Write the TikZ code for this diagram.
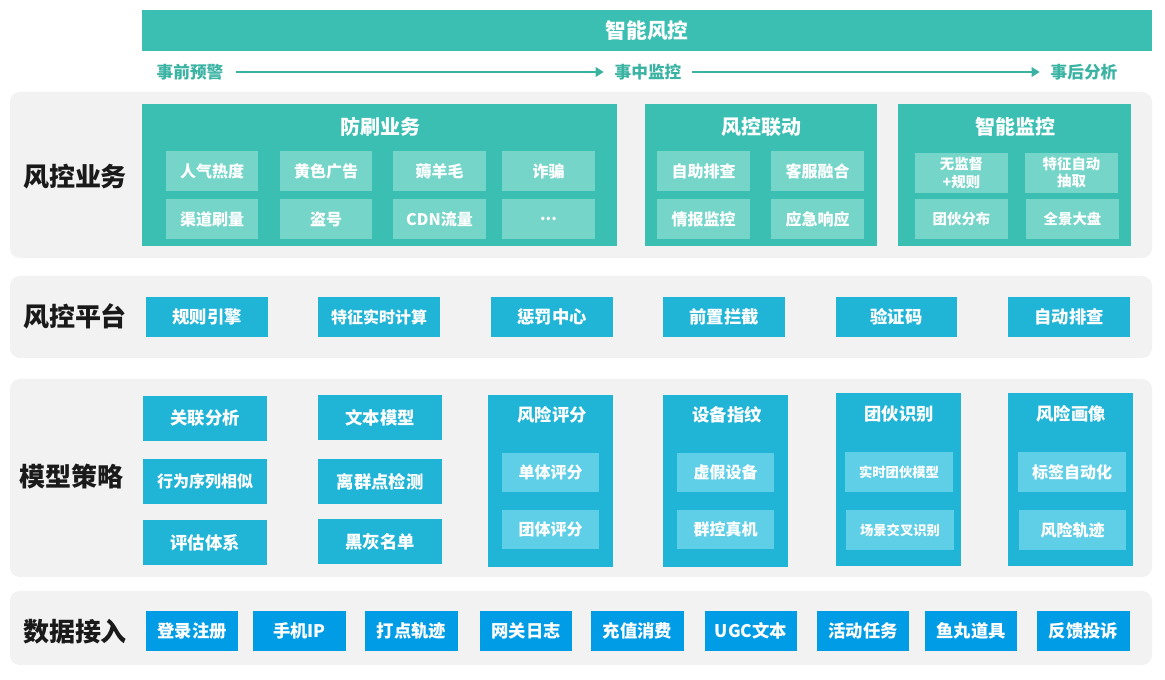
\documentclass[tikz,border=0pt]{standalone}
\usepackage{fontspec}
\setmainfont{Noto Sans CJK SC}
\usetikzlibrary{arrows.meta}
\definecolor{teal1}{HTML}{3CBFB3}
\definecolor{teal2}{HTML}{76D5C9}
\definecolor{tealtxt}{HTML}{3AB3A3}
\definecolor{cyan1}{HTML}{20B4D6}
\definecolor{cyan2}{HTML}{5FCFE8}
\definecolor{blue1}{HTML}{009CE5}
\definecolor{panelgray}{HTML}{F2F2F2}
\definecolor{labelblack}{HTML}{1A1A1A}
\newcommand\bx[7]{\node[#6, minimum width={(#4-#2)*0.75pt}, minimum height={(#5-#3)*0.75pt}] (#1) at ({(#2+#4)/2},{(#3+#5)/2}) {#7};}
\tikzset{
  base/.style={inner sep=0pt, outer sep=0pt, text=white, font=\bfseries, align=center},
  banner/.style={base, fill=teal1, font=\bfseries\fontsize{15.5pt}{18pt}\selectfont},
  group/.style={base, fill=teal1},
  tsub/.style={base, fill=teal2, font=\bfseries\fontsize{12pt}{14pt}\selectfont},
  tsubsm/.style={base, fill=teal2, font=\bfseries\fontsize{10.8pt}{12.8pt}\selectfont},
  grptitle/.style={text=white, font=\bfseries\fontsize{15pt}{18pt}\selectfont, inner sep=0pt},
  cbox/.style={base, fill=cyan1, font=\bfseries\fontsize{13pt}{15pt}\selectfont},
  cboxs/.style={base, fill=cyan1, font=\bfseries\fontsize{12pt}{14pt}\selectfont},
  tall/.style={base, fill=cyan1},
  talltitle/.style={text=white, font=\bfseries\fontsize{13pt}{15pt}\selectfont, inner sep=0pt},
  csub/.style={base, fill=cyan2, font=\bfseries\fontsize{12pt}{14pt}\selectfont},
  csubsm/.style={base, fill=cyan2, font=\bfseries\fontsize{10pt}{12pt}\selectfont},
  dbox/.style={base, fill=blue1, font=\bfseries\fontsize{13pt}{15pt}\selectfont},
  panel/.style={fill=panelgray, draw=none, rounded corners=7.5pt},
  seclabel/.style={text=labelblack, font=\bfseries\fontsize{19.5pt}{22pt}\selectfont, inner sep=0pt},
  phase/.style={text=tealtxt, font=\bfseries\fontsize{12.5pt}{15pt}\selectfont, inner sep=0pt},
  flowarrow/.style={draw=tealtxt, line width=1.5pt, -{Triangle[length=6pt,width=7pt]}},
}
\begin{document}
\begin{tikzpicture}[x=0.75pt,y=-0.75pt]
\useasboundingbox (0,0) rectangle (1165,680);
\fill[white] (0,0) rectangle (1165,680);

% top banner
\bx{banner}{142}{10}{1152}{51}{banner}{智能风控}
\node[phase] (pre) at (190,72) {事前预警};
\node[phase] (mid) at (648,72) {事中监控};
\node[phase] (post) at (1084,72) {事后分析};
\draw[flowarrow] ([xshift=9pt]pre.east) -- ([xshift=-8pt]mid.west);
\draw[flowarrow] ([xshift=8pt]mid.east) -- ([xshift=-8pt]post.west);

% panels
\fill[panel] (10,92) rectangle (1152,258);
\fill[panel] (10,276) rectangle (1152,358);
\fill[panel] (10,379) rectangle (1152,577);
\fill[panel] (10,591) rectangle (1152,665);

\node[seclabel] (l1) at (75,177) {风控业务};
\node[seclabel] (l2) at (75,316) {风控平台};
\node[seclabel] (l3) at (72,477) {模型策略};
\node[seclabel] (l4) at (75,632) {数据接入};

% panel 1
\bx{g1}{142}{104}{617}{246}{group}{}
\node[grptitle] (g1t) at (380,127) {防刷业务};
\bx{a1}{166}{151}{258}{191}{tsub}{人气热度}
\bx{a2}{280}{151}{372}{191}{tsub}{黄色广告}
\bx{a3}{393}{151}{486}{191}{tsub}{薅羊毛}
\bx{a4}{502}{151}{595}{191}{tsub}{诈骗}
\bx{a5}{166}{199}{258}{239}{tsub}{渠道刷量}
\bx{a6}{280}{199}{372}{239}{tsub}{盗号}
\bx{a7}{393}{199}{486}{239}{tsub}{CDN流量}
\bx{a8}{502}{199}{595}{239}{tsub}{...}

\bx{g2}{645}{104}{877}{246}{group}{}
\node[grptitle] (g2t) at (761,127) {风控联动};
\bx{b1}{657}{151}{750}{191}{tsub}{自助排查}
\bx{b2}{771}{151}{864}{191}{tsub}{客服融合}
\bx{b3}{657}{199}{750}{239}{tsub}{情报监控}
\bx{b4}{771}{199}{864}{239}{tsub}{应急响应}

\bx{g3}{898}{104}{1131}{246}{group}{}
\node[grptitle] (g3t) at (1015,127) {智能监控};
\bx{c1}{915}{153}{1008}{193}{tsubsm}{无监督\\+规则}
\bx{c2}{1025}{153}{1118}{193}{tsubsm}{特征自动\\抽取}
\bx{c3}{915}{199}{1008}{239}{tsubsm}{团伙分布}
\bx{c4}{1026}{199}{1119}{239}{tsubsm}{全景大盘}

% panel 2
\bx{p1}{146}{297}{268}{337}{cbox}{规则引擎}
\bx{p2}{318}{297}{440}{337}{cboxs}{特征实时计算}
\bx{p3}{491}{297}{613}{337}{cbox}{惩罚中心}
\bx{p4}{663}{297}{785}{337}{cbox}{前置拦截}
\bx{p5}{836}{297}{957}{337}{cbox}{验证码}
\bx{p6}{1008}{297}{1130}{337}{cbox}{自动排查}

% panel 3
\bx{m1}{143}{396}{267}{441}{cbox}{关联分析}
\bx{m2}{143}{459}{267}{504}{cboxs}{行为序列相似}
\bx{m3}{143}{520}{267}{565}{cbox}{评估体系}
\bx{m4}{318}{395}{442}{440}{cbox}{文本模型}
\bx{m5}{318}{459}{442}{504}{cbox}{离群点检测}
\bx{m6}{318}{519}{442}{564}{cbox}{黑灰名单}

\bx{t1}{488}{395}{613}{567}{tall}{}
\node[talltitle] (t1t) at (552,415) {风险评分};
\bx{t1a}{502}{453}{599}{492}{csub}{单体评分}
\bx{t1b}{502}{510}{599}{549}{csub}{团体评分}

\bx{t2}{663}{395}{788}{567}{tall}{}
\node[talltitle] (t2t) at (727,415) {设备指纹};
\bx{t2a}{677}{453}{774}{492}{csub}{虚假设备}
\bx{t2b}{677}{510}{774}{549}{csub}{群控真机}

\bx{t3}{836}{393}{961}{566}{tall}{}
\node[talltitle] (t3t) at (899,414) {团伙识别};
\bx{t3a}{845}{452}{953}{492}{csubsm}{实时团伙模型}
\bx{t3b}{846}{510}{954}{550}{csubsm}{场景交叉识别}

\bx{t4}{1008}{393}{1133}{566}{tall}{}
\node[talltitle] (t4t) at (1071,414) {风险画像};
\bx{t4a}{1018}{452}{1126}{492}{csub}{标签自动化}
\bx{t4b}{1019}{510}{1126}{550}{csub}{风险轨迹}

% panel 4
\bx{d1}{146}{611}{238}{651}{dbox}{登录注册}
\bx{d2}{253}{611}{346}{651}{dbox}{手机IP}
\bx{d3}{365}{611}{458}{651}{dbox}{打点轨迹}
\bx{d4}{480}{611}{572}{651}{dbox}{网关日志}
\bx{d5}{591}{611}{684}{651}{dbox}{充值消费}
\bx{d6}{705}{611}{797}{651}{dbox}{UGC文本}
\bx{d7}{817}{611}{909}{651}{dbox}{活动任务}
\bx{d8}{925}{611}{1017}{651}{dbox}{鱼丸道具}
\bx{d9}{1037}{611}{1130}{651}{dbox}{反馈投诉}
\end{tikzpicture}
\end{document}
